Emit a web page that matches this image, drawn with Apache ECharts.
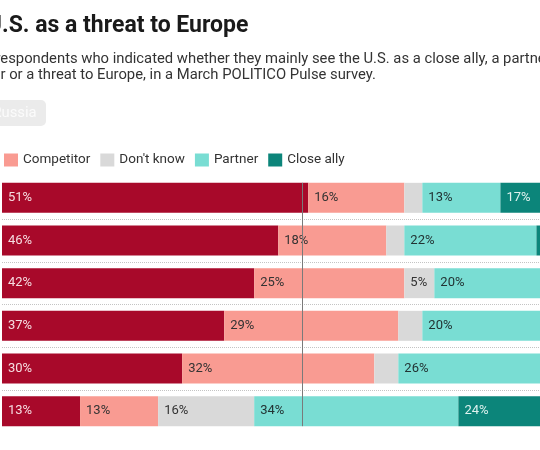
<!DOCTYPE html>
<html>
<head>
<meta charset="utf-8">
<script src="https://cdn.jsdelivr.net/npm/echarts@6/dist/echarts.min.js"></script>
<style>
    html, body { margin: 0; padding: 0; background: #fff; overflow: hidden; }
    .threat-chart { width: 540px; height: 450px; }
</style>
</head>
<body>
<div class="threat-chart"></div>
<script>
// 行（标签在截图左侧之外，不显示）
const categories = ['Group 1', 'Group 2', 'Group 3', 'Group 4', 'Group 5', 'Group 6'];
const seriesNames = ['Threat', 'Competitor', "Don't know", 'Partner', 'Close ally'];

// 各类百分比
const threat = [51, 46, 42, 37, 30, 13];
const competitor = [16, 18, 25, 29, 32, 13];
const dontKnow = [3, 3, 5, 4, 4, 16];
const partner = [13, 22, 20, 20, 26, 34];
const closeAlly = [17, 11, 8, 10, 8, 24];
const midValue = 50;

// 文字
const titleText = 'U.S. as a threat to Europe';
const subLine1 = 'respondents who indicated whether they mainly see the U.S. as a close ally, a partner,';
const subLine2 = 'competitor or a threat to Europe, in a March POLITICO Pulse survey.';
const buttonText = 'Russia';

const colors = ['#a8092a', '#f99b92', '#d9d9d9', '#79ddd3', '#0c857a'];
const labelColors = ['#f6dde1', '#333333', '#333333', '#223333', '#dff2ef'];

// 测量文字宽度，用来把被裁掉的部分推到画布左边外
const measureCtx = document.createElement('canvas').getContext('2d');
function textWidth(str, font) {
    measureCtx.font = font;
    return measureCtx.measureText(str).width;
}

const titleFont = 'bold 23px Roboto';
const subFont = '14.8px Roboto';
const legendFont = '13.5px Roboto';
const barWidth = 30;

var myChart = echarts.init(document.querySelector('.threat-chart'));

const allData = [threat, competitor, dontKnow, partner, closeAlly];

let option = {
    animation: false,
    color: colors,
    grid: {
        left: 2,
        top: 176.5,
        width: 600.5,
        height: 256,
        // 条形超出画布右侧，不要收进容器
        outerBoundsMode: 'none'
    },
    xAxis: {
        type: 'value',
        min: 0,
        max: 100,
        show: false
    },
    yAxis: {
        type: 'category',
        data: categories,
        inverse: true,
        axisLine: { show: false },
        axisTick: { show: false },
        axisLabel: { show: false },
        splitLine: {
            show: true,
            showMinLine: false,
            showMaxLine: false,
            lineStyle: { type: 'dotted', color: '#c4c4c4', width: 1 }
        }
    },
    legend: {
        // 第一项 Threat 在画布左侧外
        left: -1 - (14 + 5 + textWidth('Threat', legendFont) + 10),
        top: 148,
        itemWidth: 14,
        itemHeight: 13,
        itemGap: 10,
        icon: 'rect',
        selectedMode: false,
        data: seriesNames,
        textStyle: { fontFamily: 'Roboto', fontSize: 13.5, color: '#333' }
    },
    graphic: [
        {
            type: 'text',
            x: 2 - textWidth('U', titleFont),
            y: 26,
            style: { text: titleText, font: titleFont, fill: '#1a1a1a', verticalAlign: 'middle' }
        },
        {
            type: 'text',
            x: 0.5 - textWidth('r', subFont),
            y: 59,
            style: { text: subLine1, font: subFont, fill: '#333', verticalAlign: 'middle' }
        },
        {
            type: 'text',
            x: 0.5 - textWidth('competito', subFont),
            y: 75,
            style: { text: subLine2, font: subFont, fill: '#333', verticalAlign: 'middle' }
        },
        // Russia 按钮
        {
            type: 'rect',
            shape: { x: -14, y: 100, width: 60, height: 26, r: 5 },
            style: { fill: '#ebebeb' }
        },
        {
            type: 'text',
            x: 1.5 - textWidth('R', subFont),
            y: 113,
            style: { text: buttonText, font: subFont, fill: '#fbfbfb', verticalAlign: 'middle' }
        }
    ],
    series: seriesNames.map(function (name, i) {
        return {
            name: name,
            type: 'bar',
            stack: 'total',
            barWidth: barWidth,
            data: allData[i],
            emphasis: { disabled: true },
            label: {
                show: true,
                position: 'insideLeft',
                distance: 6,
                fontFamily: 'Roboto',
                fontSize: 13,
                color: labelColors[i],
                formatter(p) {
                    return p.value >= 5 ? p.value + '%' : '';
                }
            }
        };
    })
};
myChart.setOption(option);

// 50% 竖线：从第一根条顶到最后一根条底
const lineX = myChart.convertToPixel({ xAxisIndex: 0 }, midValue);
const lineTop = myChart.convertToPixel({ yAxisIndex: 0 }, categories[0]) - barWidth / 2;
const lineBottom = myChart.convertToPixel({ yAxisIndex: 0 }, categories[categories.length - 1]) + barWidth / 2;
myChart.setOption({
    graphic: [{
        id: 'midline',
        type: 'line',
        z: 100,
        shape: { x1: Math.round(lineX) + 0.5, y1: lineTop, x2: Math.round(lineX) + 0.5, y2: lineBottom },
        style: { stroke: '#7a7a7a', lineWidth: 1 }
    }]
});

window.addEventListener('resize', function () {
    myChart.resize();
});
</script>
</body>
</html>
